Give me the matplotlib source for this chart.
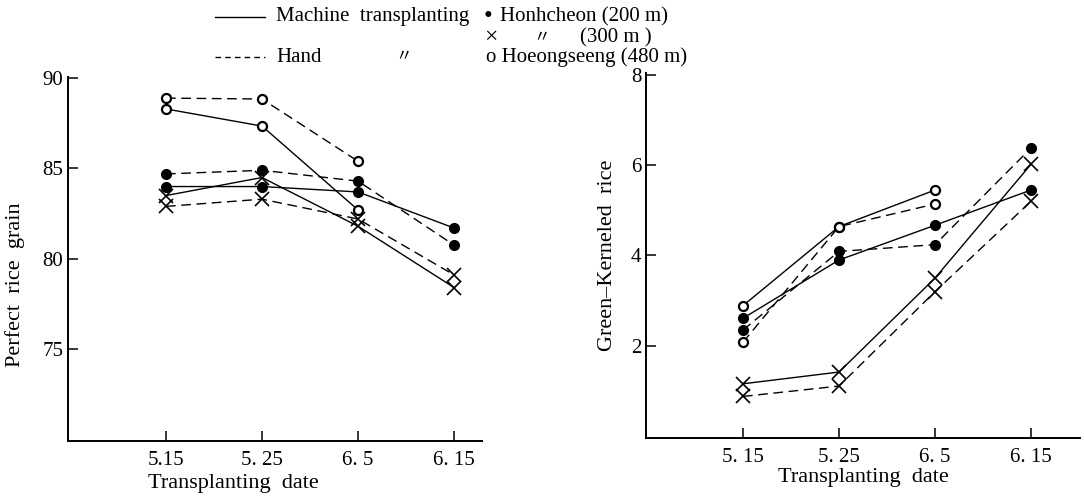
import matplotlib.pyplot as plt
from matplotlib.lines import Line2D

plt.rcParams['font.family'] = ['Liberation Serif', 'Noto Sans CJK JP', 'DejaVu Sans']

dates = [0, 1, 2, 3]
left_ticklabels = ['5.15', '5. 25', '6. 5', '6. 15']
right_ticklabels = ['5. 15', '5. 25', '6. 5', '6. 15']

# Perfect rice grain (%)
perfect_machine_200 = [84.0, 84.0, 83.7, 81.7]
perfect_machine_300 = [83.5, 84.5, 81.8, 78.4]
perfect_machine_480 = [88.3, 87.35, 82.7]
perfect_hand_200 = [84.7, 84.9, 84.3, 80.75]
perfect_hand_300 = [82.9, 83.3, 82.2, 79.1]
perfect_hand_480 = [88.9, 88.85, 85.4]

# Green-kerneled rice (%)
green_machine_200 = [2.61, 3.90, 4.67, 5.45]
green_machine_300 = [1.16, 1.42, 3.50, 6.02]
green_machine_480 = [2.89, 4.64, 5.45]
green_hand_200 = [2.35, 4.09, 4.24, 6.38]
green_hand_300 = [0.88, 1.11, 3.20, 5.20]
green_hand_480 = [2.08, 4.64, 5.14]

lw = 1.0
dash = (7, 4)


def draw(ax, series):
    for vals, style, marker in series:
        kw = dict(color='black', lw=lw)
        if style == 'dashed':
            kw['dashes'] = dash
        if marker == 'o':
            kw.update(marker='o', markersize=7, markerfacecolor='black',
                      markeredgecolor='black')
        elif marker == 'x':
            kw.update(marker='x', markersize=10, markeredgewidth=1.2)
        else:
            kw.update(marker='o', markersize=6.5, markerfacecolor='white',
                      markeredgecolor='black', markeredgewidth=1.6)
        ax.plot(dates[:len(vals)], vals, **kw)


def style_axes(ax, ticklabels):
    ax.spines['top'].set_visible(False)
    ax.spines['right'].set_visible(False)
    ax.spines['left'].set_linewidth(1.4)
    ax.spines['bottom'].set_linewidth(1.4)
    ax.tick_params(direction='in', length=7, width=1.1, labelsize=15)
    ax.set_xticks(dates)
    ax.set_xticklabels(ticklabels)
    ax.tick_params(axis='x', pad=7)


fig = plt.figure(figsize=(10.84, 4.96), dpi=100)

ax1 = fig.add_axes([68 / 1084, 1 - 441 / 496, 414 / 1084, 364 / 496])
draw(ax1, [
    (perfect_machine_200, 'solid', 'o'),
    (perfect_machine_300, 'solid', 'x'),
    (perfect_machine_480, 'solid', 'open'),
    (perfect_hand_200, 'dashed', 'o'),
    (perfect_hand_300, 'dashed', 'x'),
    (perfect_hand_480, 'dashed', 'open'),
])
style_axes(ax1, left_ticklabels)
ax1.set_xlim(-1.02, 3.29)
ax1.set_ylim(69.9, 90.07)
ax1.set_yticks([75, 80, 85, 90])
ax1.set_ylabel('Perfect  rice  grain', fontsize=16)
ax1.set_xlabel('Transplanting  date', fontsize=16)
ax1.yaxis.set_label_coords(-0.105, 0.43)
ax1.xaxis.set_label_coords(0.40, -0.09)

ax2 = fig.add_axes([646 / 1084, 1 - 438 / 496, 434 / 1084, 365 / 496])
draw(ax2, [
    (green_machine_200, 'solid', 'o'),
    (green_machine_300, 'solid', 'x'),
    (green_machine_480, 'solid', 'open'),
    (green_hand_200, 'dashed', 'o'),
    (green_hand_300, 'dashed', 'x'),
    (green_hand_480, 'dashed', 'open'),
])
style_axes(ax2, right_ticklabels)
ax2.set_xlim(-1.01, 3.51)
ax2.set_ylim(-0.04, 8.04)
ax2.set_yticks([2, 4, 6, 8])
ax2.set_ylabel('Green\u2013Kerneled  rice', fontsize=16, labelpad=10)
ax2.set_xlabel('Transplanting  date', fontsize=16, labelpad=1)

# legend at the top, laid out by hand like the original figure
W, H = 1084, 496


def fx(px):
    return px / W


def fy(py):
    return 1 - py / H


fig.lines.append(Line2D([fx(215), fx(265)], [fy(17), fy(17)], color='black',
                        lw=lw, transform=fig.transFigure))
fig.lines.append(Line2D([fx(215), fx(265)], [fy(57), fy(57)], color='black',
                        lw=lw, dashes=(4, 3), transform=fig.transFigure))
fs = 15
fig.text(fx(276), fy(17), 'Machine  transplanting', fontsize=fs, va='center')
fig.text(fx(484), fy(17), '\u2022', fontsize=fs + 3, va='center')
fig.text(fx(500), fy(17), 'Honhcheon (200 m)', fontsize=fs, va='center')
fig.text(fx(484), fy(38), '\u00d7', fontsize=fs + 2, va='center')
fig.text(fx(533), fy(38), '\u3003', fontsize=fs - 3, va='center', style='italic')
fig.text(fx(580), fy(38), '(300 m )', fontsize=fs, va='center')
fig.text(fx(276), fy(57), 'Hand', fontsize=fs, va='center')
fig.text(fx(395), fy(57), '\u3003', fontsize=fs - 3, va='center', style='italic')
fig.text(fx(486), fy(57), 'o Hoeongseeng (480 m)', fontsize=fs, va='center')

fig.savefig('out.png', dpi=100)
